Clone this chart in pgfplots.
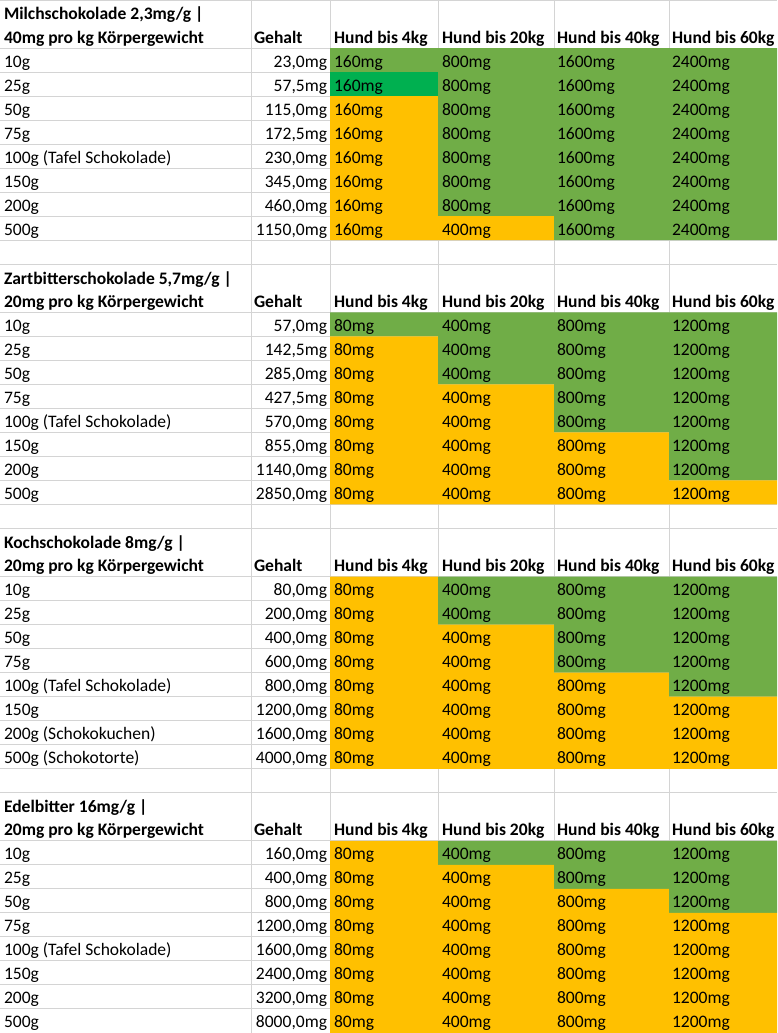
\documentclass[border=0pt]{standalone}
\usepackage{pgfplots}
\pgfplotsset{compat=1.18}
\usepackage{fontspec}
\setmainfont{Carlito}
\definecolor{cgreen}{HTML}{70AD47}
\definecolor{cdark}{HTML}{00B050}
\definecolor{corange}{HTML}{FFC000}
\definecolor{cgrid}{HTML}{D4D4D4}
\tikzset{tx/.style={inner sep=0pt, outer sep=0pt, font=\fontsize{17.6pt}{20pt}\selectfont}}

% filled cell block: x1 x2 row1 row2 colour
\newcommand{\cellfill}[5]{\addplot[fill=#5,draw=none] coordinates {(#1,#3) (#2,#3) (#2,#4) (#1,#4) (#1,#3)};}
% block header: top row, line 1, line 2
\newcommand{\hdr}[3]{%
  \node[tx,anchor=base west] at (axis cs:4,{#1+0.83}) {\bfseries #2};
  \node[tx,anchor=base west] at (axis cs:4,{#1+1.79}) {\bfseries #3};
  \node[tx,anchor=base west] at (axis cs:254,{#1+1.79}) {\bfseries Gehalt};
  \node[tx,anchor=base west] at (axis cs:334,{#1+1.79}) {\bfseries Hund bis 4kg};
  \node[tx,anchor=base west] at (axis cs:442,{#1+1.79}) {\bfseries Hund bis 20kg};
  \node[tx,anchor=base west] at (axis cs:557,{#1+1.79}) {\bfseries Hund bis 40kg};
  \node[tx,anchor=base west] at (axis cs:672,{#1+1.79}) {\bfseries Hund bis 60kg};
}
% data row: row, label, Gehalt, four doses
\newcommand{\drow}[7]{%
  \node[tx,anchor=base west] at (axis cs:4,{#1+0.79}) {#2};
  \node[tx,anchor=base east] at (axis cs:327,{#1+0.79}) {#3};
  \node[tx,anchor=base west] at (axis cs:334,{#1+0.79}) {#4mg};
  \node[tx,anchor=base west] at (axis cs:442,{#1+0.79}) {#5mg};
  \node[tx,anchor=base west] at (axis cs:557,{#1+0.79}) {#6mg};
  \node[tx,anchor=base west] at (axis cs:672,{#1+0.79}) {#7mg};
}

\begin{document}
\begin{tikzpicture}
\begin{axis}[width=777bp, height=1033bp, scale only axis,
  xmin=0, xmax=777, ymin=0, ymax=43, y dir=reverse, clip=false,
  axis line style={draw=none}, major tick length=0pt,
  xticklabels={}, yticklabels={},
  xtick={251,330,438,554,669},
  ytick={0,2,3,4,5,6,7,8,9,10,11,13,14,15,16,17,18,19,20,21,22,24,25,26,27,28,29,30,31,32,33,35,36,37,38,39,40,41,42,43},
  xmajorgrids, ymajorgrids, grid style={cgrid, line width=1bp}]

% Milchschokolade
\cellfill{330}{438}{2}{3}{cgreen}
\cellfill{330}{438}{3}{4}{cdark}
\cellfill{330}{438}{4}{10}{corange}
\cellfill{438}{554}{2}{9}{cgreen}
\cellfill{438}{554}{9}{10}{corange}
\cellfill{554}{669}{2}{10}{cgreen}
\cellfill{669}{777}{2}{10}{cgreen}
% Zartbitterschokolade
\cellfill{330}{438}{13}{14}{cgreen}
\cellfill{330}{438}{14}{21}{corange}
\cellfill{438}{554}{13}{16}{cgreen}
\cellfill{438}{554}{16}{21}{corange}
\cellfill{554}{669}{13}{18}{cgreen}
\cellfill{554}{669}{18}{21}{corange}
\cellfill{669}{777}{13}{20}{cgreen}
\cellfill{669}{777}{20}{21}{corange}
% Kochschokolade
\cellfill{330}{438}{24}{32}{corange}
\cellfill{438}{554}{24}{26}{cgreen}
\cellfill{438}{554}{26}{32}{corange}
\cellfill{554}{669}{24}{28}{cgreen}
\cellfill{554}{669}{28}{32}{corange}
\cellfill{669}{777}{24}{29}{cgreen}
\cellfill{669}{777}{29}{32}{corange}
% Edelbitter
\cellfill{330}{438}{35}{43}{corange}
\cellfill{438}{554}{35}{36}{cgreen}
\cellfill{438}{554}{36}{43}{corange}
\cellfill{554}{669}{35}{37}{cgreen}
\cellfill{554}{669}{37}{43}{corange}
\cellfill{669}{777}{35}{38}{cgreen}
\cellfill{669}{777}{38}{43}{corange}

\hdr{0}{Milchschokolade 2,3mg/g |}{40mg pro kg Körpergewicht}
\drow{2}{10g}{23,0mg}{160}{800}{1600}{2400}
\drow{3}{25g}{57,5mg}{160}{800}{1600}{2400}
\drow{4}{50g}{115,0mg}{160}{800}{1600}{2400}
\drow{5}{75g}{172,5mg}{160}{800}{1600}{2400}
\drow{6}{100g (Tafel Schokolade)}{230,0mg}{160}{800}{1600}{2400}
\drow{7}{150g}{345,0mg}{160}{800}{1600}{2400}
\drow{8}{200g}{460,0mg}{160}{800}{1600}{2400}
\drow{9}{500g}{1150,0mg}{160}{400}{1600}{2400}

\hdr{11}{Zartbitterschokolade 5,7mg/g |}{20mg pro kg Körpergewicht}
\drow{13}{10g}{57,0mg}{80}{400}{800}{1200}
\drow{14}{25g}{142,5mg}{80}{400}{800}{1200}
\drow{15}{50g}{285,0mg}{80}{400}{800}{1200}
\drow{16}{75g}{427,5mg}{80}{400}{800}{1200}
\drow{17}{100g (Tafel Schokolade)}{570,0mg}{80}{400}{800}{1200}
\drow{18}{150g}{855,0mg}{80}{400}{800}{1200}
\drow{19}{200g}{1140,0mg}{80}{400}{800}{1200}
\drow{20}{500g}{2850,0mg}{80}{400}{800}{1200}

\hdr{22}{Kochschokolade 8mg/g |}{20mg pro kg Körpergewicht}
\drow{24}{10g}{80,0mg}{80}{400}{800}{1200}
\drow{25}{25g}{200,0mg}{80}{400}{800}{1200}
\drow{26}{50g}{400,0mg}{80}{400}{800}{1200}
\drow{27}{75g}{600,0mg}{80}{400}{800}{1200}
\drow{28}{100g (Tafel Schokolade)}{800,0mg}{80}{400}{800}{1200}
\drow{29}{150g}{1200,0mg}{80}{400}{800}{1200}
\drow{30}{200g (Schokokuchen)}{1600,0mg}{80}{400}{800}{1200}
\drow{31}{500g (Schokotorte)}{4000,0mg}{80}{400}{800}{1200}

\hdr{33}{Edelbitter 16mg/g |}{20mg pro kg Körpergewicht}
\drow{35}{10g}{160,0mg}{80}{400}{800}{1200}
\drow{36}{25g}{400,0mg}{80}{400}{800}{1200}
\drow{37}{50g}{800,0mg}{80}{400}{800}{1200}
\drow{38}{75g}{1200,0mg}{80}{400}{800}{1200}
\drow{39}{100g (Tafel Schokolade)}{1600,0mg}{80}{400}{800}{1200}
\drow{40}{150g}{2400,0mg}{80}{400}{800}{1200}
\drow{41}{200g}{3200,0mg}{80}{400}{800}{1200}
\drow{42}{500g}{8000,0mg}{80}{400}{800}{1200}

\coordinate (SW) at (axis cs:0,43);
\coordinate (NE) at (axis cs:777,0);
\end{axis}
\pgfresetboundingbox
\useasboundingbox (SW) rectangle (NE);
\end{tikzpicture}
\end{document}
